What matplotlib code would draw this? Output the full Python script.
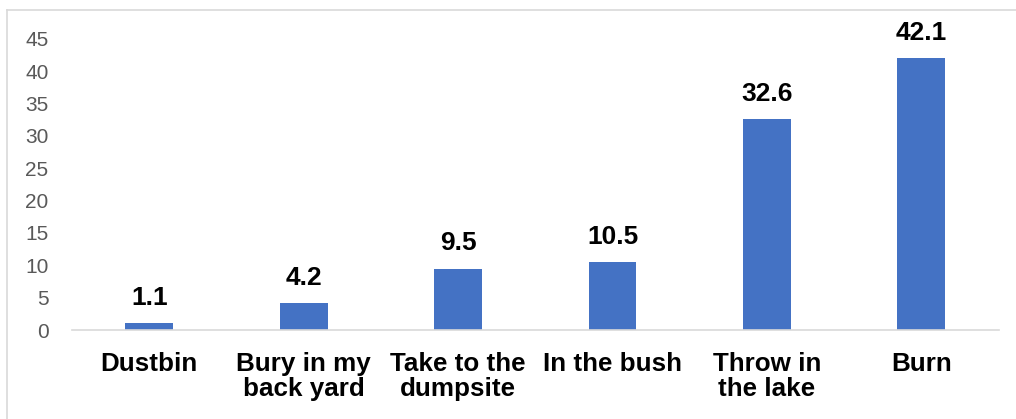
import matplotlib.pyplot as plt
from matplotlib.lines import Line2D

categories = ['Dustbin', 'Bury in my\nback yard', 'Take to the\ndumpsite',
              'In the bush', 'Throw in\nthe lake', 'Burn']
values = [1.1, 4.2, 9.5, 10.5, 32.6, 42.1]
yticks = [0, 5, 10, 15, 20, 25, 30, 35, 40, 45]

plt.rcParams['font.family'] = ['Liberation Sans', 'DejaVu Sans']

fig = plt.figure(figsize=(10.16, 4.19), dpi=100)
ax = fig.add_axes([0.0709, 0.2124, 0.912, 0.6946])

x = range(len(categories))
bars = ax.bar(x, values, width=0.31, color='#4472C4', zorder=2)

# value labels above bars
for b, v in zip(bars, values):
    ax.annotate(f'{v:.1f}', (b.get_x() + b.get_width() / 2, v),
                xytext=(0, 9.5), textcoords='offset points',
                ha='center', va='bottom', fontsize=19, fontweight='bold',
                color='black', annotation_clip=False)

ax.set_xlim(-0.5, len(categories) - 0.5)
ax.set_ylim(0, 45)
ax.set_yticks(yticks)
ax.set_xticks(list(x))
ax.set_xticklabels(categories, fontsize=18.7, fontweight='bold', linespacing=1.05)
ax.tick_params(axis='x', length=0, pad=16)
ax.tick_params(axis='y', length=0, pad=17, labelsize=15, labelcolor='#595959')

for s in ['top', 'right', 'left']:
    ax.spines[s].set_visible(False)
ax.spines['bottom'].set_color('#D9D9D9')
ax.spines['bottom'].set_linewidth(1.2)

# outer chart border (partly cut off in the original)
x0 = 7 / 1016
y1 = 1 - 10 / 419
fig.add_artist(Line2D([x0, x0], [0, y1], transform=fig.transFigure,
                      color='#D9D9D9', lw=1.2))
fig.add_artist(Line2D([x0, 1], [y1, y1], transform=fig.transFigure,
                      color='#D9D9D9', lw=1.2))

fig.savefig('out.png', dpi=100)
